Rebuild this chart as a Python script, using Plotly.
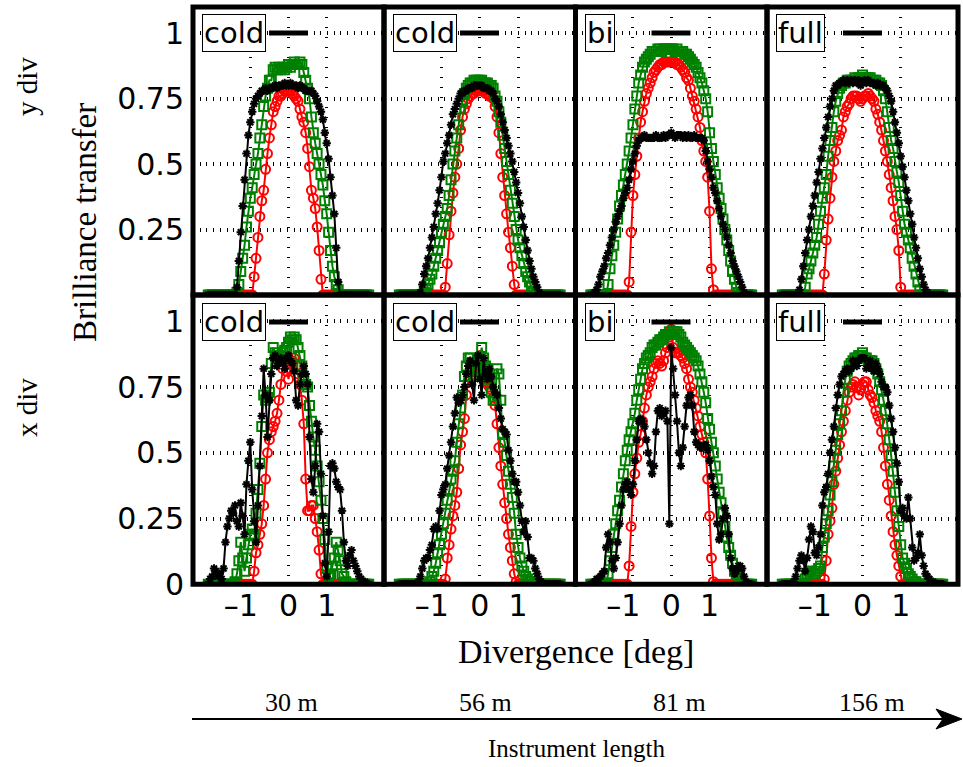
import plotly.graph_objects as go

# ---------------- data ----------------
X_DEG = [-2.10, -2.05, -2.00, -1.95, -1.90, -1.85, -1.80, -1.75, -1.70, -1.65,
         -1.60, -1.55, -1.50, -1.45, -1.40, -1.35, -1.30, -1.25, -1.20, -1.15,
         -1.10, -1.05, -1.00, -0.95, -0.90, -0.85, -0.80, -0.75, -0.70, -0.65,
         -0.60, -0.55, -0.50, -0.45, -0.40, -0.35, -0.30, -0.25, -0.20, -0.15,
         -0.10, -0.05, 0.00, 0.05, 0.10, 0.15, 0.20, 0.25, 0.30, 0.35,
         0.40, 0.45, 0.50, 0.55, 0.60, 0.65, 0.70, 0.75, 0.80, 0.85,
         0.90, 0.95, 1.00, 1.05, 1.10, 1.15, 1.20, 1.25, 1.30, 1.35,
         1.40, 1.45, 1.50, 1.55, 1.60, 1.65, 1.70, 1.75, 1.80, 1.85,
         1.90, 1.95, 2.00, 2.05, 2.10]

# ---- top row: y divergence ----
T30_RED = [0, 0, 0, 0, 0, 0, 0, 0, 0, 0,
           0, 0, 0, 0, 0, 0, 0, 0, 0, 0,
           0, 0, 0, 0, .07, .14, .22, .30, .36, .40,
           .48, .54, .60, .65, .70, .72, .74, .76, .76, .77,
           .78, .78, .78, .78, .77, .76, .75, .74, .71, .68,
           .66, .62, .56, .49, .40, .37, .33, .26, .17, .06,
           0, 0, 0, 0, 0, 0, 0, 0, 0, 0,
           0, 0, 0, 0, 0, 0, 0, 0, 0, 0,
           0, 0, 0, 0, 0]
T30_GREEN = [0, 0, 0, 0, 0, 0, 0, 0, 0, 0,
             0, 0, 0, 0, 0, .01, .04, .09, .14, .19,
             .26, .32, .37, .41, .46, .50, .54, .60, .65, .72,
             .76, .79, .82, .82, .86, .87, .86, .87, .86, .87,
             .86, .87, .88, .87, .88, .89, .88, .88, .89, .88,
             .85, .82, .79, .75, .68, .62, .58, .54, .50, .46,
             .42, .36, .31, .24, .17, .11, .07, .04, .02, 0,
             0, 0, 0, 0, 0, 0, 0, 0, 0, 0,
             0, 0, 0, 0, 0]
T30_BLACK = [0, 0, 0, 0, 0, 0, 0, 0, 0, 0,
             0, 0, 0, 0, 0, .03, .13, .24, .34, .44,
             .54, .61, .66, .70, .73, .75, .76, .77, .78, .78,
             .79, .78, .79, .79, .79, .80, .79, .80, .80, .80,
             .81, .80, .80, .81, .80, .80, .80, .79, .80, .79,
             .79, .78, .78, .78, .78, .77, .76, .74, .72, .70,
             .67, .62, .58, .52, .45, .38, .31, .18, .05, 0,
             0, 0, 0, 0, 0, 0, 0, 0, 0, 0,
             0, 0, 0, 0, 0]

T56_RED = [0, 0, 0, 0, 0, 0, 0, 0, 0, 0,
           0, 0, 0, 0, 0, 0, 0, 0, 0, 0,
           0, 0, 0, 0, .03, .12, .23, .32, .39, .45,
           .50, .56, .63, .68, .71, .73, .75, .76, .77, .77,
           .78, .78, .78, .78, .78, .77, .77, .76, .76, .75,
           .72, .68, .62, .54, .45, .38, .31, .24, .18, .11,
           .04, 0, 0, 0, 0, 0, 0, 0, 0, 0,
           0, 0, 0, 0, 0, 0, 0, 0, 0, 0,
           0, 0, 0, 0, 0]
T56_GREEN = [0, 0, 0, 0, 0, 0, 0, 0, 0, 0,
             0, 0, 0, .01, .02, .04, .06, .08, .11, .14,
             .17, .20, .24, .27, .30, .33, .38, .44, .50, .55,
             .60, .65, .71, .74, .77, .79, .80, .81, .81, .82,
             .82, .82, .82, .82, .81, .81, .81, .80, .80, .79,
             .76, .74, .70, .66, .61, .56, .51, .46, .40, .35,
             .30, .25, .21, .18, .15, .12, .09, .07, .05, .03,
             .01, 0, 0, 0, 0, 0, 0, 0, 0, 0,
             0, 0, 0, 0, 0]
T56_BLACK = [0, 0, 0, 0, 0, 0, 0, 0, 0, 0,
             0, .01, .04, .08, .11, .14, .18, .22, .26, .31,
             .35, .40, .45, .51, .54, .58, .61, .65, .69, .71,
             .73, .75, .77, .77, .78, .78, .79, .79, .79, .80,
             .80, .80, .80, .80, .79, .79, .79, .78, .78, .77,
             .75, .74, .72, .69, .66, .63, .60, .57, .54, .51,
             .47, .43, .39, .35, .30, .26, .21, .17, .13, .10,
             .07, .05, .03, .01, 0, 0, 0, 0, 0, 0,
             0, 0, 0, 0, 0]

T81_RED = [0, 0, 0, 0, 0, 0, 0, 0, 0, 0,
           0, 0, 0, 0, 0, 0, 0, 0, 0, 0,
           .05, .24, .38, .46, .53, .60, .66, .70, .74, .77,
           .79, .81, .83, .85, .86, .87, .88, .88, .89, .89,
           .89, .89, .89, .89, .89, .88, .88, .87, .86, .85,
           .83, .82, .79, .76, .74, .71, .68, .64, .59, .55,
           .51, .45, .32, .10, .02, 0, 0, 0, 0, 0,
           0, 0, 0, 0, 0, 0, 0, 0, 0, 0,
           0, 0, 0, 0, 0]
T81_GREEN = [0, 0, 0, 0, 0, 0, 0, 0, 0, .04,
             .10, .15, .19, .24, .29, .34, .38, .42, .46, .50,
             .55, .60, .65, .71, .76, .81, .84, .87, .89, .90,
             .91, .92, .93, .93, .93, .94, .94, .93, .94, .94,
             .94, .94, .94, .94, .93, .94, .93, .93, .93, .92,
             .92, .91, .90, .89, .88, .87, .85, .83, .81, .78,
             .75, .70, .62, .56, .51, .46, .41, .37, .33, .29,
             .25, .21, .17, .13, .09, .06, .03, .01, 0, 0,
             0, 0, 0, 0, 0]
T81_BLACK = [0, 0, .01, .02, .04, .07, .09, .11, .14, .16,
             .19, .22, .25, .28, .30, .32, .34, .37, .39, .41,
             .44, .48, .51, .54, .57, .59, .60, .60, .61, .60,
             .60, .60, .60, .60, .61, .60, .60, .60, .61, .60,
             .61, .61, .62, .61, .60, .61, .61, .61, .60, .61,
             .60, .61, .60, .60, .61, .60, .60, .60, .60, .59,
             .55, .51, .48, .45, .41, .39, .36, .33, .30, .27,
             .25, .22, .19, .16, .13, .11, .09, .07, .05, .03,
             .01, 0, 0, 0, 0]

T156_RED = [0, 0, 0, 0, 0, 0, 0, 0, 0, 0,
            0, 0, 0, 0, 0, 0, 0, 0, 0, 0,
            0, 0, .08, .21, .29, .37, .45, .51, .55, .59,
            .61, .63, .68, .70, .72, .73, .75, .76, .76, .76,
            .75, .74, .75, .76, .76, .77, .76, .75, .74, .71,
            .69, .66, .63, .59, .55, .51, .46, .41, .36, .30,
            .25, .17, .03, 0, 0, 0, 0, 0, 0, 0,
            0, 0, 0, 0, 0, 0, 0, 0, 0, 0,
            0, 0, 0, 0, 0]
T156_GREEN = [0, 0, 0, 0, 0, 0, 0, 0, 0, 0,
              0, 0, .03, .08, .10, .13, .16, .19, .22, .27,
              .32, .37, .41, .46, .53, .59, .64, .70, .74, .77,
              .79, .80, .81, .81, .82, .82, .82, .82, .83, .82,
              .83, .83, .84, .83, .83, .83, .83, .82, .82, .82,
              .81, .81, .80, .78, .75, .70, .64, .59, .56, .51,
              .47, .43, .38, .32, .27, .24, .21, .18, .14, .11,
              .08, .05, .02, 0, 0, 0, 0, 0, 0, 0,
              0, 0, 0, 0, 0]
T156_BLACK = [0, 0, 0, 0, 0, 0, 0, 0, 0, .02,
              .06, .11, .16, .21, .25, .30, .34, .38, .43, .47,
              .52, .56, .60, .64, .68, .72, .75, .78, .80, .80,
              .81, .81, .82, .81, .82, .81, .82, .81, .82, .81,
              .82, .80, .81, .82, .81, .82, .81, .81, .81, .80,
              .81, .80, .80, .80, .79, .78, .76, .74, .70, .66,
              .62, .58, .53, .49, .45, .40, .36, .31, .27, .22,
              .18, .14, .10, .07, .04, .02, .01, 0, 0, 0,
              0, 0, 0, 0, 0]

# ---- bottom row: x divergence ----
B30_RED = [0, 0, 0, 0, 0, 0, 0, 0, 0, 0,
           0, 0, 0, 0, 0, 0, 0, 0, 0, 0,
           0, 0, 0, 0, .05, .12, .15, .19, .23, .30,
           .40, .50, .55, .58, .60, .62, .65, .70, .76, .82,
           .85, .81, .78, .82, .85, .86, .83, .80, .76, .70,
           .61, .40, .28, .28, .30, .30, .25, .20, .13, .04,
           0, 0, 0, 0, 0, 0, 0, 0, 0, 0,
           0, 0, 0, 0, 0, 0, 0, 0, 0, 0,
           0, 0, 0, 0, 0]
B30_GREEN = [0, 0, 0, 0, 0, 0, 0, 0, 0, 0,
             0, 0, 0, 0, .01, .04, .09, .16, .10, .05,
             .10, .15, .19, .21, .19, .27, .36, .46, .60, .72,
             .70, .71, .73, .84, .90, .88, .87, .86, .87, .88,
             .89, .90, .92, .94, .93, .94, .93, .90, .87, .83,
             .78, .76, .75, .68, .62, .56, .51, .45, .39, .32,
             .25, .17, .06, .03, .04, .07, .10, .16, .13, .09,
             .04, .03, .01, 0, 0, 0, 0, 0, 0, 0,
             0, 0, 0, 0, 0]
B30_BLACK = [0, .02, .03, .06, .05, .03, .04, .02, .06, .16,
             .22, .25, .28, .27, .30, .24, .22, .31, .26, .19,
             .38, .47, .54, .36, .24, .16, .30, .45, .64, .82,
             .72, .56, .70, .80, .86, .87, .83, .85, .86, .84,
             .82, .86, .87, .85, .84, .81, .70, .68, .76, .80,
             .83, .80, .76, .56, .40, .35, .45, .61, .58, .42,
             .26, .08, .03, .20, .45, .46, .44, .39, .37, .36,
             .28, .16, .09, .07, .11, .13, .09, .07, .05, .03,
             .02, .01, .01, 0, 0]

B56_RED = [0, 0, 0, 0, 0, 0, 0, 0, 0, 0,
           0, 0, 0, 0, 0, 0, 0, 0, 0, 0,
           0, 0, 0, 0, .02, .10, .15, .21, .26, .30,
           .35, .44, .53, .58, .63, .72, .77, .79, .81, .83,
           .85, .86, .87, .85, .80, .77, .76, .75, .74, .71,
           .68, .61, .52, .45, .38, .31, .25, .19, .14, .09,
           .04, .01, 0, 0, 0, 0, 0, 0, 0, 0,
           0, 0, 0, 0, 0, 0, 0, 0, 0, 0,
           0, 0, 0, 0, 0]
B56_GREEN = [0, 0, 0, 0, 0, 0, 0, 0, 0, 0,
             0, 0, 0, 0, 0, 0, .01, .03, .05, .08,
             .12, .15, .19, .23, .27, .32, .36, .40, .43, .47,
             .54, .61, .67, .72, .79, .83, .86, .86, .84, .79,
             .79, .81, .86, .90, .86, .83, .82, .78, .73, .70,
             .70, .82, .80, .70, .57, .54, .49, .43, .38, .33,
             .27, .19, .14, .10, .07, .05, .03, .02, .01, .01,
             0, 0, 0, 0, 0, 0, 0, 0, 0, 0,
             0, 0, 0, 0, 0]
B56_BLACK = [0, 0, 0, 0, 0, 0, 0, 0, 0, 0,
             .01, .03, .06, .09, .10, .10, .13, .15, .21, .22,
             .21, .28, .34, .36, .38, .44, .49, .54, .60, .65,
             .71, .69, .70, .72, .75, .80, .83, .85, .76, .70,
             .84, .87, .78, .72, .86, .80, .78, .82, .79, .75,
             .73, .72, .67, .63, .59, .58, .57, .51, .47, .42,
             .39, .39, .35, .30, .24, .20, .24, .18, .10, .10,
             .09, .06, .04, .02, .01, 0, 0, 0, 0, 0,
             0, 0, 0, 0, 0]

B81_RED = [0, 0, 0, 0, 0, 0, 0, 0, 0, 0,
           0, 0, 0, 0, 0, 0, 0, 0, 0, 0,
           .07, .22, .35, .42, .48, .54, .57, .62, .67, .72,
           .75, .77, .79, .82, .84, .85, .84, .83, .85, .88,
           .90, .94, .97, .90, .88, .88, .88, .87, .86, .84,
           .82, .78, .75, .73, .70, .67, .64, .60, .57, .54,
           .50, .40, .26, .10, .01, 0, 0, 0, 0, 0,
           0, 0, 0, 0, 0, 0, 0, 0, 0, 0,
           0, 0, 0, 0, 0]
B81_GREEN = [0, 0, 0, 0, 0, 0, 0, 0, 0, .04,
             .09, .14, .19, .23, .28, .32, .37, .42, .47, .51,
             .55, .58, .61, .65, .70, .74, .78, .82, .84, .86,
             .87, .88, .90, .91, .91, .92, .93, .93, .94, .95,
             .95, .96, .95, .96, .96, .96, .95, .94, .92, .91,
             .90, .89, .88, .87, .86, .85, .83, .80, .77, .73,
             .69, .63, .59, .54, .50, .45, .40, .35, .31, .27,
             .22, .18, .14, .11, .08, .05, .04, .02, .01, 0,
             0, 0, 0, 0, 0]
B81_BLACK = [0, 0, .01, .02, .02, .03, .04, .05, .14, .19,
             .16, .09, .06, .10, .16, .23, .30, .36, .38, .39,
             .36, .34, .38, .47, .55, .62, .63, .62, .60, .55,
             .50, .46, .42, .45, .58, .66, .67, .64, .65, .66,
             .62, .23, .90, .82, .72, .62, .50, .45, .52, .60,
             .68, .71, .72, .68, .58, .54, .53, .52, .52, .53,
             .53, .51, .47, .41, .37, .34, .23, .17, .19, .25,
             .29, .26, .19, .10, .06, .04, .05, .07, .07, .06,
             .03, .01, 0, 0, 0]

B156_RED = [0, 0, 0, 0, 0, 0, 0, 0, 0, 0,
            0, 0, 0, 0, 0, 0, 0, 0, 0, 0,
            0, 0, .02, .09, .19, .24, .29, .38, .43, .48,
            .53, .58, .62, .66, .70, .73, .75, .76, .77, .75,
            .72, .74, .76, .77, .77, .74, .72, .71, .69, .66,
            .64, .62, .58, .52, .45, .38, .32, .26, .20, .15,
            .11, .07, .03, 0, 0, 0, 0, 0, 0, 0,
            0, 0, 0, 0, 0, 0, 0, 0, 0, 0,
            0, 0, 0, 0, 0]
B156_GREEN = [0, 0, 0, 0, 0, 0, 0, 0, 0, 0,
              0, 0, .02, .04, .05, .05, .04, .04, .05, .06,
              .07, .14, .18, .23, .28, .34, .39, .45, .51, .57,
              .61, .66, .73, .78, .81, .83, .84, .85, .86, .86,
              .87, .87, .88, .86, .86, .85, .85, .85, .84, .82,
              .80, .77, .74, .70, .66, .61, .55, .49, .43, .35,
              .28, .22, .15, .10, .08, .06, .04, .03, .02, .01,
              .01, 0, 0, 0, 0, 0, 0, 0, 0, 0,
              0, 0, 0, 0, 0]
B156_BLACK = [0, 0, 0, 0, 0, 0, .01, .03, .06, .09,
              .11, .09, .05, .10, .17, .22, .20, .12, .11, .14,
              .19, .30, .35, .37, .42, .50, .55, .60, .67, .72,
              .76, .79, .80, .81, .82, .81, .82, .85, .84, .83,
              .85, .86, .86, .86, .82, .83, .85, .82, .81, .84,
              .82, .80, .77, .75, .75, .73, .68, .63, .58, .52,
              .46, .39, .28, .29, .26, .25, .33, .25, .14, .09,
              .10, .12, .19, .11, .07, .04, .03, .02, .01, .01,
              0, 0, 0, 0, 0]

PANEL_LABELS = ["cold", "cold", "bi", "full"]
LENGTHS = ["30 m", "56 m", "81 m", "156 m"]
ROW_LABELS = ["y div", "x div"]
XTICK_VALS = [-1, 0, 1]
XTICK_TEXT = ["\u20131\u00a0\u00a0", "0", "1"]
YTICK_TOP_VALS = [0.25, 0.5, 0.75, 1]
YTICK_TOP_TEXT = ["0.25", "0.5", "0.75", "1"]
YTICK_BOT_VALS = [0, 0.25, 0.5, 0.75, 1]
YTICK_BOT_TEXT = ["0", "0.25", "0.5", "0.75", "1"]

PANELS = [
    [(T30_RED, T30_GREEN, T30_BLACK), (T56_RED, T56_GREEN, T56_BLACK),
     (T81_RED, T81_GREEN, T81_BLACK), (T156_RED, T156_GREEN, T156_BLACK)],
    [(B30_RED, B30_GREEN, B30_BLACK), (B56_RED, B56_GREEN, B56_BLACK),
     (B81_RED, B81_GREEN, B81_BLACK), (B156_RED, B156_GREEN, B156_BLACK)],
]
for row in PANELS:
    for trio in row:
        for s in trio:
            assert len(s) == len(X_DEG), len(s)

# ---------------- layout geometry (pixels) ----------------
W, H = 963, 767
COL_EDGES = [193, 384, 575.5, 767, 958]
ROW_EDGES = [7, 295, 584.3]

def px(x):
    return x / W

def py(y):
    return 1 - y / H

SANS = "DejaVu Sans"
SERIF = "Liberation Serif"

STYLES = [
    dict(color="#ff0000", symbol="circle-open", size=9),
    dict(color="#008000", symbol="square-open", size=9),
    dict(color="#000000", symbol="asterisk-open", size=7),
]

fig = go.Figure()
layout = dict(
    width=W, height=H, autosize=False,
    margin=dict(l=0, r=0, t=0, b=0, pad=0, autoexpand=False),
    paper_bgcolor="white", plot_bgcolor="white",
    showlegend=False,
)
shapes = []
annotations = []

for r in range(2):
    for c in range(4):
        k = r * 4 + c + 1
        xa = "x" if k == 1 else f"x{k}"
        ya = "y" if k == 1 else f"y{k}"
        for s, st in zip(PANELS[r][c], STYLES):
            fig.add_trace(go.Scatter(
                x=X_DEG, y=s, xaxis=xa, yaxis=ya, mode="lines+markers",
                line=dict(color=st["color"], width=2),
                marker=dict(symbol=st["symbol"], size=st["size"],
                            color=st["color"],
                            line=dict(color=st["color"], width=2)),
                hoverinfo="skip",
            ))
        x0, x1 = COL_EDGES[c], COL_EDGES[c + 1]
        y0, y1 = ROW_EDGES[r], ROW_EDGES[r + 1]
        layout["xaxis" if k == 1 else f"xaxis{k}"] = dict(
            domain=[px(x0), px(x1)], range=[-2.5, 2.5], anchor=ya,
            automargin=False,
            tickvals=XTICK_VALS, ticktext=XTICK_TEXT, tickangle=0,
            showticklabels=(r == 1), ticks="", ticklabelstandoff=1,
            tickfont=dict(family=SANS, size=30, color="black"),
            showgrid=True, gridcolor="black", gridwidth=3,
            griddash="1px,9px", zeroline=False, showline=False,
            fixedrange=True,
        )
        layout["yaxis" if k == 1 else f"yaxis{k}"] = dict(
            domain=[py(y1), py(y0)], range=[0, 1.1], anchor=xa,
            automargin=False,
            tickvals=YTICK_TOP_VALS if r == 0 else YTICK_BOT_VALS,
            ticktext=YTICK_TOP_TEXT if r == 0 else YTICK_BOT_TEXT,
            showticklabels=(c == 0), ticks="", ticklabelstandoff=8,
            tickfont=dict(family=SANS, size=30, color="black"),
            showgrid=True, gridcolor="black", gridwidth=3.5,
            griddash="1px,5.7px", zeroline=False, showline=False,
            fixedrange=True,
        )
        # frame
        shapes.append(dict(type="rect", xref="paper", yref="paper",
                           x0=px(x0), x1=px(x1), y0=py(y1), y1=py(y0),
                           line=dict(color="black", width=5),
                           fillcolor="rgba(0,0,0,0)", layer="above"))
        # legend entry
        ly = 33 if r == 0 else 322
        shapes.append(dict(type="line", xref="paper", yref="paper",
                           x0=px(x0 + 76), x1=px(x0 + 115), y0=py(ly), y1=py(ly),
                           line=dict(color="black", width=5), layer="above"))
        annotations.append(dict(
            text=PANEL_LABELS[c], xref="paper", yref="paper",
            x=px(x0 + 9), y=py(ly), xanchor="left", yanchor="middle",
            showarrow=False, font=dict(family=SANS, size=29, color="black"),
            bordercolor="black", borderwidth=1, borderpad=1, bgcolor="white",
        ))

def label(text, x, y, size, angle=0):
    annotations.append(dict(text=text, xref="paper", yref="paper",
                            x=px(x), y=py(y), xanchor="center", yanchor="middle",
                            textangle=angle, showarrow=False,
                            font=dict(family=SERIF, size=size, color="black")))

label(ROW_LABELS[0], 27, 87, 29, -90)
label(ROW_LABELS[1], 27, 408, 29, -90)
label("Brilliance transfer", 85, 223, 33, -90)
label("Divergence [deg]", 576, 651, 34)
for lab, xc in zip(LENGTHS, [291, 486, 679, 872]):
    label(lab, xc, 702, 26)
label("Instrument length", 577, 748, 25)

# instrument-length arrow
AY = 719
shapes.append(dict(type="line", xref="paper", yref="paper",
                   x0=px(192), x1=px(950), y0=py(AY), y1=py(AY),
                   line=dict(color="black", width=2)))
shapes.append(dict(type="path", xref="paper", yref="paper",
                   path=(f"M {px(962)},{py(AY)} L {px(936)},{py(AY - 10)} "
                         f"L {px(943)},{py(AY)} L {px(936)},{py(AY + 10)} Z"),
                   fillcolor="black", line=dict(color="black", width=1)))

layout["shapes"] = shapes
layout["annotations"] = annotations
fig.update_layout(**layout)

fig.write_html("out.html", config={"displayModeBar": False},
               post_script="document.body.style.margin='0';")
